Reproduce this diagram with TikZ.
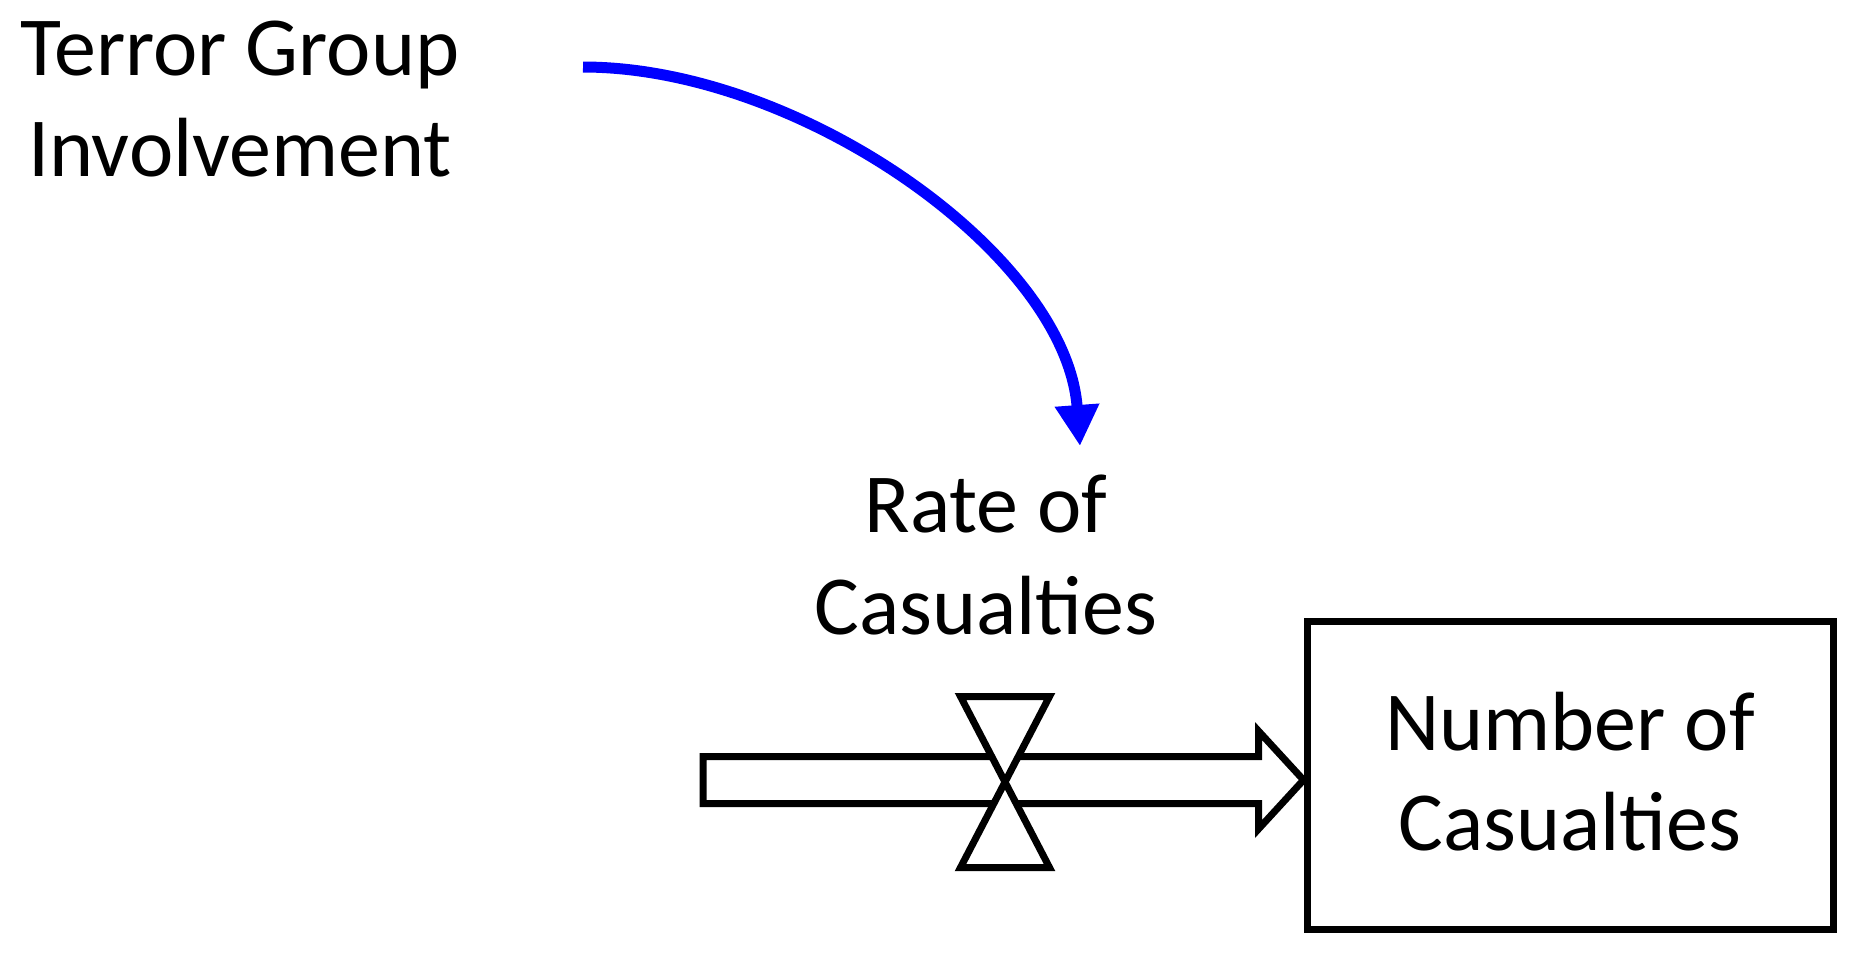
\documentclass[tikz,border=0pt]{standalone}
\usepackage{fontspec}
\setmainfont{Carlito}
\usetikzlibrary{calc,arrows.meta}
\begin{document}
\begin{tikzpicture}[x=0.4pt,y=-0.4pt,
  lbl/.style={font=\fontsize{33.6}{40.5}\selectfont, align=center, inner sep=0pt},
  stock/.style={draw=black, line width=2.8pt, minimum width=210.4pt, minimum height=123.2pt, inner sep=0pt, font=\fontsize{33.6}{40}\selectfont, align=center},
  pipe/.style={draw=black, fill=white, line width=2.8pt, line join=miter},
  valvest/.style={draw=black, fill=white, line width=2.8pt, line join=miter},
  infl/.style={draw={rgb,255:red,0;green,0;blue,255}, line width=4.4pt, -{Triangle[length=16.4pt,width=16.8pt]}}
]
\useasboundingbox (0,0) rectangle (1852,955);
% nodes
\node[lbl] (tg) at (240,99) {Terror Group\\Involvement};
\node[lbl] (rate) at (986,555) {Rate of\\Casualties};
\node[stock] (stock) at (1570,775) {\raisebox{3pt}{Number of}\\\raisebox{3pt}{Casualties}};
\coordinate (src) at (703,780);
\coordinate (valve) at (1005,782);
\coordinate (tip) at (1080,446);
\coordinate (from) at (583,67);
% flow pipe into the stock
\coordinate (head) at (stock.west |- src);
\draw[pipe] ($(src)+(0,-23.5)$) -- ($(head)+(-45,-23.5)$) -- ($(head)+(-45,-49)$) -- (head)
  -- ($(head)+(-45,49)$) -- ($(head)+(-45,23.5)$) -- ($(src)+(0,23.5)$) -- cycle;
% valve
\draw[valvest] ($(valve)+(-44.5,-85.5)$) -- ($(valve)+(44.5,-85.5)$) -- ($(valve)+(-44.5,85.5)$)
  -- ($(valve)+(44.5,85.5)$) -- cycle;
% influence arrow
\draw[infl] (from) .. controls (800,67) and (1066,255) .. (tip);
\end{tikzpicture}
\end{document}
